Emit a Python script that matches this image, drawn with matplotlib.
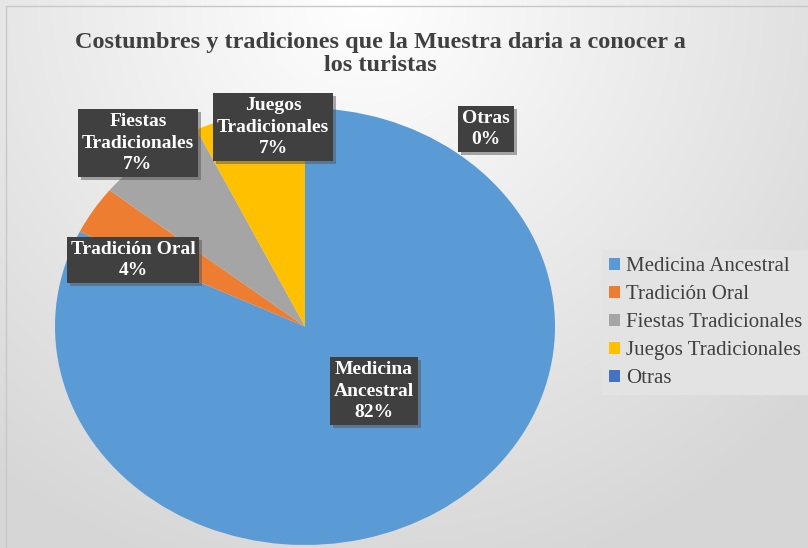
import numpy as np
import matplotlib.pyplot as plt
import matplotlib.patheffects as pe

# Data ===
categorias = ['Medicina Ancestral', 'Tradición Oral', 'Fiestas Tradicionales',
              'Juegos Tradicionales', 'Otras']
valores = [23, 1, 2, 2, 0]
colores = ['#5B9BD5', '#ED7D31', '#A5A5A5', '#FFC000', '#4472C4']
etiquetas = ['Medicina\nAncestral', 'Tradición Oral', 'Fiestas\nTradicionales',
             'Juegos\nTradicionales', 'Otras']
titulo = 'Costumbres y tradiciones que la Muestra daria a conocer a\nlos turistas'

plt.rcParams['font.family'] = ['Liberation Serif', 'DejaVu Serif']

W, H = 808, 548
fig = plt.figure(figsize=(W / 100, H / 100), dpi=100)

# background gradient (white at top centre, grey to the edges)
bg = fig.add_axes([0, 0, 1, 1])
yy, xx = np.mgrid[0:1:300j, 0:1:400j]
r = np.clip(np.sqrt(((xx - 0.45) / 0.75) ** 2 + (yy / 1.1) ** 2), 0, 1)
g = 1 - 0.16 * r
bg.imshow(np.dstack([g, g, g]), aspect='auto', extent=[0, 1, 0, 1], origin='upper')
bg.set_xlim(0, 1); bg.set_ylim(0, 1)
bg.plot([6 / W, 6 / W, 1], [0, 1 - 6 / H, 1 - 6 / H], color='#c8c8c8', lw=1)
bg.axis('off')

# pie (elliptical, like the original)
ax = fig.add_axes([55 / W, 3 / H, 500 / W, 437 / H])
total = sum(valores)
wedges, _ = ax.pie(valores, colors=colores, startangle=90, counterclock=False,
                   radius=1, wedgeprops=dict(linewidth=0))
ax.set_aspect('auto')
ax.set_xlim(-1, 1); ax.set_ylim(-1, 1)
ax.axis('off')

fig.text(380 / W, 1 - 54 / H, titulo, ha='center', va='center', fontsize=17.5,
         fontweight='bold', color='#404040', linespacing=1.12)

# data labels
pos_lab = [(374, 391), (133, 260), (138, 143), (273, 127), (486, 129)]
for (px, py), lab, v in zip(pos_lab, etiquetas, valores):
    t = fig.text(px / W, 1 - py / H, f'{lab}\n{round(100 * v / total):.0f}%',
                 ha='center', va='center', fontsize=14, fontweight='bold',
                 color='white', linespacing=1.35,
                 bbox=dict(boxstyle='square,pad=0.2', fc='#404040', ec='none'))
    t.get_bbox_patch().set_path_effects([
        pe.SimplePatchShadow(offset=(2, -2), shadow_rgbFace='#555555', alpha=0.5), pe.Normal()])

leg = fig.legend(wedges, categorias, loc='upper left', bbox_to_anchor=(602 / W, 1 - 250 / H),
                 borderaxespad=0, frameon=True, fancybox=False, facecolor='#e3e3e3',
                 edgecolor='none', framealpha=1, fontsize=15, handlelength=0.5,
                 handleheight=0.5, handletextpad=0.3, labelspacing=0.43,
                 borderpad=0.35, labelcolor='#404040')

fig.savefig('out.png', dpi=100)
